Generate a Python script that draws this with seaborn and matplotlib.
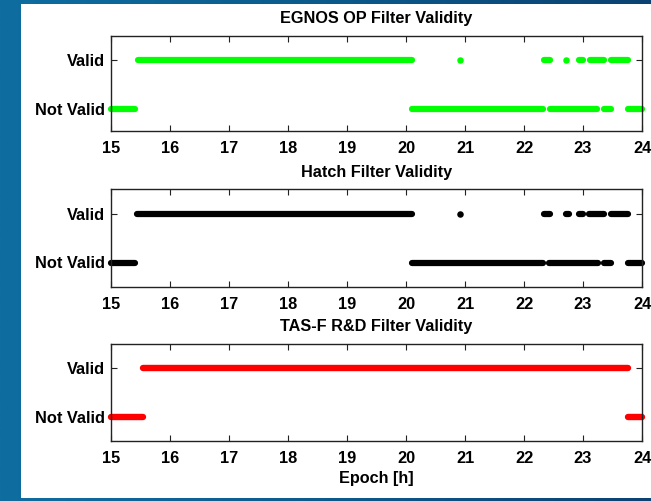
import numpy as np
import pandas as pd
import matplotlib
matplotlib.use("Agg")
import matplotlib.pyplot as plt
from matplotlib.colors import LinearSegmentedColormap
from matplotlib.patches import Rectangle
import seaborn as sns

# ---------------- data (epoch in hours) ----------------
titles = ["EGNOS OP Filter Validity", "Hatch Filter Validity", "TAS-F R&D Filter Validity"]
colors = ["#00ff00", "#000000", "#ff0000"]
state_labels = ["Not Valid", "Valid"]
x_ticks = [15, 16, 17, 18, 19, 20, 21, 22, 23, 24]

# EGNOS OP filter
egnos_valid_start = [15.45, 22.34, 22.94, 23.12, 23.47]
egnos_valid_end = [20.10, 22.44, 23.00, 23.35, 23.76]
egnos_valid_dots = [20.91, 22.72]
egnos_notvalid_start = [15.00, 20.11, 22.44, 23.35, 23.76]
egnos_notvalid_end = [15.40, 22.33, 23.24, 23.48, 24.00]

# Hatch filter
hatch_valid_start = [15.44, 22.34, 22.71, 22.94, 23.11, 23.47]
hatch_valid_end = [20.10, 22.44, 22.76, 23.00, 23.35, 23.76]
hatch_valid_dots = [20.91]
hatch_notvalid_start = [15.00, 20.11, 22.43, 23.36, 23.76]
hatch_notvalid_end = [15.41, 22.33, 23.26, 23.48, 24.00]

# TAS-F R&D filter
tasf_valid_start = [15.55]
tasf_valid_end = [23.76]
tasf_valid_dots = []
tasf_notvalid_start = [15.00, 23.77]
tasf_notvalid_end = [15.54, 24.00]

panels = [
    (egnos_valid_start, egnos_valid_end, egnos_valid_dots, egnos_notvalid_start, egnos_notvalid_end),
    (hatch_valid_start, hatch_valid_end, hatch_valid_dots, hatch_notvalid_start, hatch_notvalid_end),
    (tasf_valid_start, tasf_valid_end, tasf_valid_dots, tasf_notvalid_start, tasf_notvalid_end),
]


def segments_frame(vs, ve, ns, ne):
    rows = []
    seg = 0
    for s, e in zip(vs, ve):
        rows += [(s, 1, seg), (e, 1, seg)]
        seg += 1
    for s, e in zip(ns, ne):
        rows += [(s, 0, seg), (e, 0, seg)]
        seg += 1
    return pd.DataFrame(rows, columns=["epoch", "state", "seg"])


# ---------------- style ----------------
sns.set_theme(style="ticks")
plt.rcParams["font.family"] = ["Liberation Sans", "DejaVu Sans"]
plt.rcParams["font.weight"] = "bold"
plt.rcParams["axes.titleweight"] = "bold"
plt.rcParams["axes.labelweight"] = "bold"

W, H = 651, 501
fig = plt.figure(figsize=(W / 100, H / 100), dpi=100)

# background: blue frame gradient + white panel
ax_bg = fig.add_axes([0, 0, 1, 1], zorder=-10)
grad = np.linspace(0, 1, 256).reshape(1, -1)
cmap = LinearSegmentedColormap.from_list("bg", ["#0f6da0", "#0c5a8c", "#0b4272"])
ax_bg.imshow(grad, aspect="auto", cmap=cmap, extent=[0, 1, 0, 1])
ax_bg.set_axis_off()
fig.patches.append(Rectangle((21 / W, 3 / H), 1 - 21 / W, (498 - 4) / H,
                             transform=fig.transFigure, facecolor="white",
                             edgecolor="none", zorder=-5))


def pos(l, r, t, b):
    return [l / W, 1 - b / H, (r - l) / W, (b - t) / H]


boxes = [(111, 642, 36, 131), (111, 642, 189, 287), (111, 642, 344, 441)]
ylims = [(-0.45, 1.48), (-0.5, 1.5), (-0.5, 1.5)]
lws = [4.5, 4.5, 4.6]

for i, (box, (vs, ve, vd, ns, ne)) in enumerate(zip(boxes, panels)):
    ax = fig.add_axes(pos(*box))
    ax.set_facecolor("white")
    df = segments_frame(vs, ve, ns, ne)
    sns.lineplot(data=df, x="epoch", y="state", units="seg", estimator=None,
                 color=colors[i], linewidth=lws[i], ax=ax, legend=False,
                 solid_capstyle="round", sort=False)
    for ln in ax.get_lines():
        ln.set_clip_on(False)
    if vd:
        dd = pd.DataFrame({"epoch": vd, "state": [1] * len(vd)})
        sns.scatterplot(data=dd, x="epoch", y="state", color=colors[i], s=22,
                        linewidth=0, ax=ax, legend=False, clip_on=False)
    ax.set_xlim(15, 24)
    ax.set_ylim(*ylims[i])
    ax.set_xticks(x_ticks)
    ax.set_xticklabels([str(t) for t in x_ticks])
    ax.set_yticks([0, 1])
    ax.set_yticklabels(state_labels)
    ax.tick_params(axis="both", direction="in", top=True, right=True,
                   length=4, width=0.8, color="#222222", labelsize=11.8,
                   labelcolor="black")
    ax.tick_params(axis="x", pad=7.5)
    ax.tick_params(axis="y", pad=4)
    for sp in ax.spines.values():
        sp.set_visible(True)
        sp.set_color("#222222")
        sp.set_linewidth(1.0)
    ax.set_title(titles[i], fontsize=11.7, fontweight="bold", pad=9, color="black")
    ax.set_ylabel("")
    if i == 2:
        ax.set_xlabel("Epoch [h]", fontsize=11.7, fontweight="bold", labelpad=3, color="black")
    else:
        ax.set_xlabel("")

fig.savefig("out.png", dpi=100)
